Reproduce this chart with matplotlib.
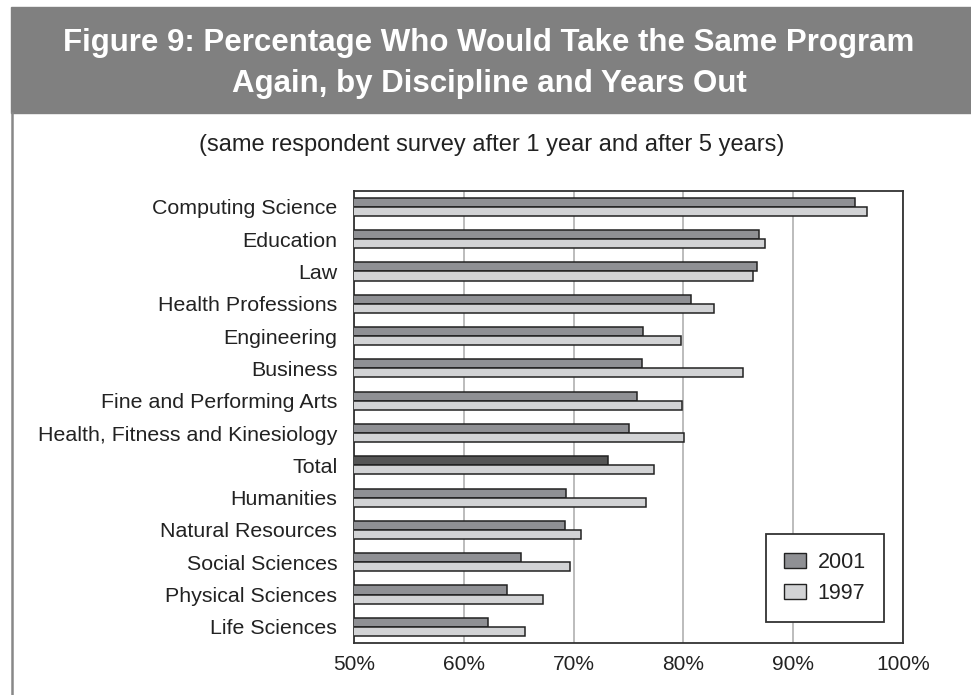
import matplotlib
matplotlib.use("Agg")
import matplotlib.pyplot as plt
import numpy as np
from matplotlib.patches import Rectangle, Patch
from matplotlib.lines import Line2D

plt.rcParams['font.family'] = ['Liberation Sans', 'DejaVu Sans']

categories = ['Computing Science', 'Education', 'Law', 'Health Professions',
              'Engineering', 'Business', 'Fine and Performing Arts',
              'Health, Fitness and Kinesiology', 'Total', 'Humanities',
              'Natural Resources', 'Social Sciences', 'Physical Sciences',
              'Life Sciences']
vals_2001 = [95.6, 86.9, 86.7, 80.7, 76.3, 76.2, 75.8, 75.0, 73.1, 69.3,
             69.2, 65.2, 63.9, 62.2]
vals_1997 = [96.7, 87.4, 86.3, 82.8, 79.8, 85.4, 79.9, 80.1, 77.3, 76.6,
             70.7, 69.7, 67.2, 65.6]
xticks = [50, 60, 70, 80, 90, 100]
xtick_labels = ['50%', '60%', '70%', '80%', '90%', '100%']

c2001 = '#8f9094'
c1997 = '#d2d3d5'
c_total = '#555555'
edge = '#222222'

W, H = 971, 695
fig = plt.figure(figsize=(W / 100, H / 100), dpi=100)

# title banner and left border
fig.patches.append(Rectangle((11 / W, 1 - 113 / H), 1 - 11 / W, (113 - 7) / H,
                             transform=fig.transFigure, color='#808080', zorder=0))
fig.lines.append(Line2D([12 / W, 12 / W], [0, 1 - 113 / H], transform=fig.transFigure,
                        color='#888888', linewidth=1.8))

fig.text(489 / W, 1 - 50.7 / H, 'Figure 9: Percentage Who Would Take the Same Program',
         ha='center', va='baseline', fontsize=22.5, fontweight='bold', color='white')
fig.text(489 / W, 1 - 91.7 / H, 'Again, by Discipline and Years Out',
         ha='center', va='baseline', fontsize=22.5, fontweight='bold', color='white')
fig.text(492 / W, 1 - 145 / H, '(same respondent survey after 1 year and after 5 years)',
         ha='center', va='center', fontsize=17, color='#222222')

ax = fig.add_axes([354 / W, 1 - 643 / H, 549 / W, (643 - 190.7) / H])

y = np.arange(len(categories))
h = 0.28
colors_2001 = [c_total if c == 'Total' else c2001 for c in categories]
ax.barh(y - h / 2, vals_2001, height=h, color=colors_2001, edgecolor=edge,
        linewidth=1.1, label='2001', zorder=3)
ax.barh(y + h / 2, vals_1997, height=h, color=c1997, edgecolor=edge,
        linewidth=1.1, label='1997', zorder=3)

ax.set_xlim(50, 100)
ax.set_ylim(len(categories) - 0.5, -0.5)
ax.set_yticks(y)
ax.set_yticklabels(categories, fontsize=15.4, color='#222222')
ax.set_xticks(xticks)
ax.set_xticklabels(xtick_labels, fontsize=15, color='#222222')
ax.tick_params(axis='y', length=0, pad=12)
ax.tick_params(axis='x', length=0, pad=9)
ax.grid(axis='x', color='#b0b0b0', linewidth=1.2, zorder=0)
ax.set_axisbelow(True)
for s in ax.spines.values():
    s.set_color('#333333')
    s.set_linewidth(1.3)

handles = [Patch(facecolor=c2001, edgecolor=edge, linewidth=1.0),
           Patch(facecolor=c1997, edgecolor=edge, linewidth=1.0)]
leg = ax.legend(handles, ['2001', '1997'], loc='lower right',
                bbox_to_anchor=((883 - 354) / 549, (643 - 622) / (643 - 190.7)),
                borderaxespad=0, fontsize=15.5, fancybox=False, framealpha=1,
                edgecolor='#333333', handlelength=1.0, handleheight=0.7,
                handletextpad=0.55, borderpad=0.85, labelspacing=0.45)
leg.get_frame().set_linewidth(1.3)
leg.get_frame().set_boxstyle('square', pad=0.0)
for t in leg.get_texts():
    t.set_color('#222222')
leg._legend_box.align = 'left'
leg.set_bbox_to_anchor(((883 - 354) / 549 + 0.002, (643 - 622) / (643 - 190.7)),
                       transform=ax.transAxes)

fig.savefig('out.png', dpi=100)
